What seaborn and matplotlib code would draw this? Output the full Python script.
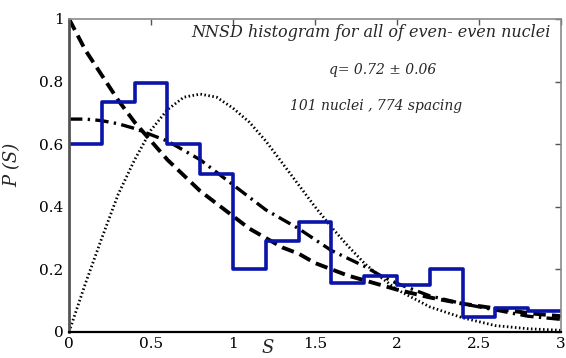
import numpy as np
import pandas as pd
from matplotlib import pyplot as plt
import seaborn as sns

# histogram (bin width 0.2)
bin_edges = [0, 0.2, 0.4, 0.6, 0.8, 1.0, 1.2, 1.4, 1.6, 1.8, 2.0, 2.2, 2.4, 2.6, 2.8, 3.0]
hist_vals = [0.60, 0.735, 0.795, 0.60, 0.505, 0.20, 0.29, 0.35, 0.155, 0.177, 0.15, 0.20, 0.048, 0.075, 0.068]

# curves
s_pts = [0, 0.1, 0.2, 0.3, 0.4, 0.5, 0.6, 0.7, 0.8, 0.9, 1.0, 1.1, 1.2, 1.3, 1.4,
         1.5, 1.6, 1.7, 1.8, 1.9, 2.0, 2.2, 2.4, 2.6, 2.8, 3.0]
poisson = [1.0, 0.90, 0.82, 0.74, 0.67, 0.61, 0.55, 0.50, 0.45, 0.41, 0.37, 0.33, 0.30,
           0.27, 0.25, 0.22, 0.20, 0.18, 0.165, 0.15, 0.135, 0.11, 0.09, 0.075, 0.06, 0.05]
wigner = [0, 0.155, 0.30, 0.44, 0.55, 0.645, 0.71, 0.75, 0.76, 0.75, 0.715, 0.67, 0.61,
          0.54, 0.47, 0.40, 0.335, 0.275, 0.22, 0.175, 0.135, 0.08, 0.045, 0.02, 0.01, 0.005]
fit_q = [0.68, 0.68, 0.675, 0.665, 0.65, 0.63, 0.61, 0.58, 0.55, 0.51, 0.47, 0.43, 0.39,
         0.36, 0.33, 0.295, 0.26, 0.235, 0.21, 0.18, 0.155, 0.115, 0.09, 0.07, 0.05, 0.04]

x_ticks = [0, 0.5, 1, 1.5, 2, 2.5, 3]
x_ticklabels = ["0", "0.5", "1", "1.5", "2", "2.5", "3"]
y_ticks = [0, 0.2, 0.4, 0.6, 0.8, 1]
y_ticklabels = ["0", "0.2", "0.4", "0.6", "0.8", "1"]

sns.set_style("white")
plt.rcParams['font.family'] = ['DejaVu Serif']

df_c = pd.DataFrame({"s": s_pts, "poisson": poisson, "wigner": wigner, "fit": fit_q})
centers = [(a + b) / 2 for a, b in zip(bin_edges[:-1], bin_edges[1:])]

fig = plt.figure(figsize=(5.66, 3.58), dpi=100)
ax = fig.add_axes([0.122, 0.073, 0.869, 0.874])

sns.lineplot(x="s", y="wigner", data=df_c, ax=ax, color="black", lw=2.0,
             linestyle=(0, (0.55, 0.9)))
sns.lineplot(x="s", y="fit", data=df_c, ax=ax, color="black", lw=2.4,
             linestyle=(0, (4, 1.6, 0.7, 1.6)))
sns.lineplot(x="s", y="poisson", data=df_c, ax=ax, color="black", lw=2.8,
             linestyle=(0, (3.2, 1.6)))
sns.histplot(x=centers, weights=hist_vals, bins=bin_edges, element="step", fill=False,
             color="#0a14a8", lw=2.6, ax=ax)

ax.set_xlim(0, 3)
ax.set_ylim(0, 1)
ax.set_xticks(x_ticks)
ax.set_xticklabels(x_ticklabels)
ax.set_yticks(y_ticks)
ax.set_yticklabels(y_ticklabels)
ax.set_xlabel("")
ax.set_ylabel("")
ax.tick_params(direction="in", length=4, width=1, labelsize=11, top=True, right=True,
               colors="#555555", labelcolor="black", pad=4)

for side in ["top", "right"]:
    ax.spines[side].set_color("#8a8a8a")
    ax.spines[side].set_linewidth(1.2)
ax.spines["left"].set_color("#555555")
ax.spines["left"].set_linewidth(2)
ax.spines["bottom"].set_color("black")
ax.spines["bottom"].set_linewidth(1.6)

ax.text(0.614, 0.958, "NNSD histogram for all of even- even nuclei", transform=ax.transAxes,
        ha="center", va="center", fontsize=11.5, style="italic")
ax.text(0.638, 0.837, "q= 0.72 ± 0.06", transform=ax.transAxes,
        ha="center", va="center", fontsize=10, style="italic")
ax.text(0.625, 0.722, "101 nuclei , 774 spacing", transform=ax.transAxes,
        ha="center", va="center", fontsize=10, style="italic")

fig.text(0.022, 0.54, "P (S)", rotation=90, ha="center", va="center", fontsize=13, style="italic")
fig.text(0.473, 0.002, "S", ha="center", va="bottom", fontsize=13, style="italic")

fig.savefig("out.png", dpi=100)
